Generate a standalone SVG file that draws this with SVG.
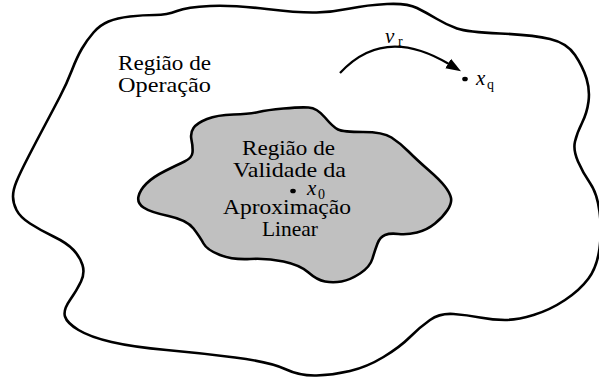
<svg xmlns="http://www.w3.org/2000/svg" width="599" height="383" viewBox="0 0 599 383">
<style>
.blob{stroke:#000;stroke-width:2.6;stroke-linejoin:round}
.lbl{font-family:"Liberation Serif","Times New Roman",serif;font-size:21px;fill:#000;text-anchor:middle}
.math{font-family:"Liberation Serif","Times New Roman",serif;font-size:21px;font-style:italic;fill:#000}
.sub{font-family:"Liberation Serif","Times New Roman",serif;font-size:14px;fill:#000}
</style>
<defs>
<marker id="ah" viewBox="0 -6 15 12" refX="1" refY="0" markerWidth="15" markerHeight="12" markerUnits="userSpaceOnUse" orient="auto">
<path d="M0,-5.5 L15,0 L0,5.5 Z" fill="#000"/>
</marker>
</defs>
<rect width="599" height="383" fill="#fff"/>
<g id="regiao-operacao">
<path class="blob" fill="#fff" d="M 210,6 Q 233,5 266.5,9 Q 300,13 316.5,12.5 Q 333,12 350,8.5 Q 367,5 387,4 Q 407,3 417,8 Q 427,13 437,19 Q 447,25 457,28.5 Q 467,32 500,33.5 Q 533,35 550,39 Q 567,43 575,55 Q 583,67 586.5,78.5 Q 590,90 588.5,101.5 Q 587,113 582,123 Q 577,133 575,141.5 Q 573,150 578,161.5 Q 583,173 590,183 Q 597,193 599.5,211.5 Q 602,230 599.5,248.5 Q 597,267 588.5,278.5 Q 580,290 565,300 Q 550,310 533.5,315 Q 517,320 505,320 Q 493,320 480,317.5 Q 467,315 453.5,314 Q 440,313 430,320 Q 420,327 410,337 Q 400,347 383.5,357 Q 367,367 350,371 Q 333,375 316.5,375.5 Q 300,376 285,369 Q 270,362 235,357.5 Q 200,353 166.5,350 Q 133,347 111.5,342 Q 90,337 78.5,330 Q 67,323 65,316.5 Q 63,310 70,300 Q 77,290 81,281.5 Q 85,273 82.5,265 Q 80,257 73.5,250 Q 67,243 53.5,236.5 Q 40,230 30,223.5 Q 20,217 16.5,210 Q 13,203 13,196.5 Q 13,190 16.5,181.5 Q 20,173 28.5,156.5 Q 37,140 45,125 Q 53,110 60,96.5 Q 67,83 72,70 Q 77,57 82,48.5 Q 87,40 93.5,32.5 Q 100,25 108.5,21.5 Q 117,18 130,16.5 Q 143,15 155,15 Q 167,15 177,11 Q 187,7 210,6 Z"/>
<text class="lbl" x="164.5" y="70" textLength="93" lengthAdjust="spacingAndGlyphs">Região de</text>
<text class="lbl" x="164.5" y="92" textLength="93" lengthAdjust="spacingAndGlyphs">Operação</text>
</g>
<g id="regiao-validade">
<path class="blob" fill="#c0c0c0" d="M 283.5,108.5 Q 300,107 308.5,107.5 Q 317,108 325,117.5 Q 333,127 338,129.5 Q 343,132 363,132 Q 383,132 391.5,137.5 Q 400,143 408.5,151.5 Q 417,160 428.5,170 Q 440,180 445,186.5 Q 450,193 451,198 Q 452,203 447.5,210 Q 443,217 435,223.5 Q 427,230 417,232.5 Q 407,235 398.5,234 Q 390,233 385,235 Q 380,237 377.5,243.5 Q 375,250 372.5,258.5 Q 370,267 360,273.5 Q 350,280 341.5,281.5 Q 333,283 325,281.5 Q 317,280 308.5,272.5 Q 300,265 283.5,261.5 Q 267,258 250,259 Q 233,260 220,255 Q 207,250 203.5,243.5 Q 200,237 193.5,228.5 Q 187,220 168.5,216 Q 150,212 143.5,207.5 Q 137,203 138.5,196.5 Q 140,190 146.5,183.5 Q 153,177 165,171 Q 177,165 184.5,161.5 Q 192,158 192.5,152.5 Q 193,147 191.5,140 Q 190,133 193.5,128 Q 197,123 207,119 Q 217,115 233.5,114.5 Q 250,114 258.5,112 Q 267,110 283.5,108.5 Z"/>
<text class="lbl" x="288.5" y="155" textLength="93" lengthAdjust="spacingAndGlyphs">Região de</text>
<text class="lbl" x="289.5" y="177" textLength="113" lengthAdjust="spacingAndGlyphs">Validade da</text>
<text class="lbl" x="287" y="214" textLength="128" lengthAdjust="spacingAndGlyphs">Aproximação</text>
<text class="lbl" x="290" y="236" textLength="56" lengthAdjust="spacingAndGlyphs">Linear</text>
</g>
<g id="ponto-x0">
<ellipse cx="293" cy="191" rx="2.8" ry="2.3" fill="#000"/>
<text class="math" x="307" y="195">x</text>
<text class="sub" x="318" y="199">0</text>
</g>
<g id="ponto-xq">
<ellipse cx="465" cy="79" rx="2.8" ry="2.3" fill="#000"/>
<text class="math" x="476" y="85">x</text>
<text class="sub" x="487" y="89">q</text>
</g>
<g id="connectors">
<path d="M340,73 Q 384,25 449,64" fill="none" stroke="#000" stroke-width="2.2" marker-end="url(#ah)"/>
<text class="math" x="385" y="43">v</text>
<text class="sub" x="398" y="46">r</text>
</g>
</svg>
